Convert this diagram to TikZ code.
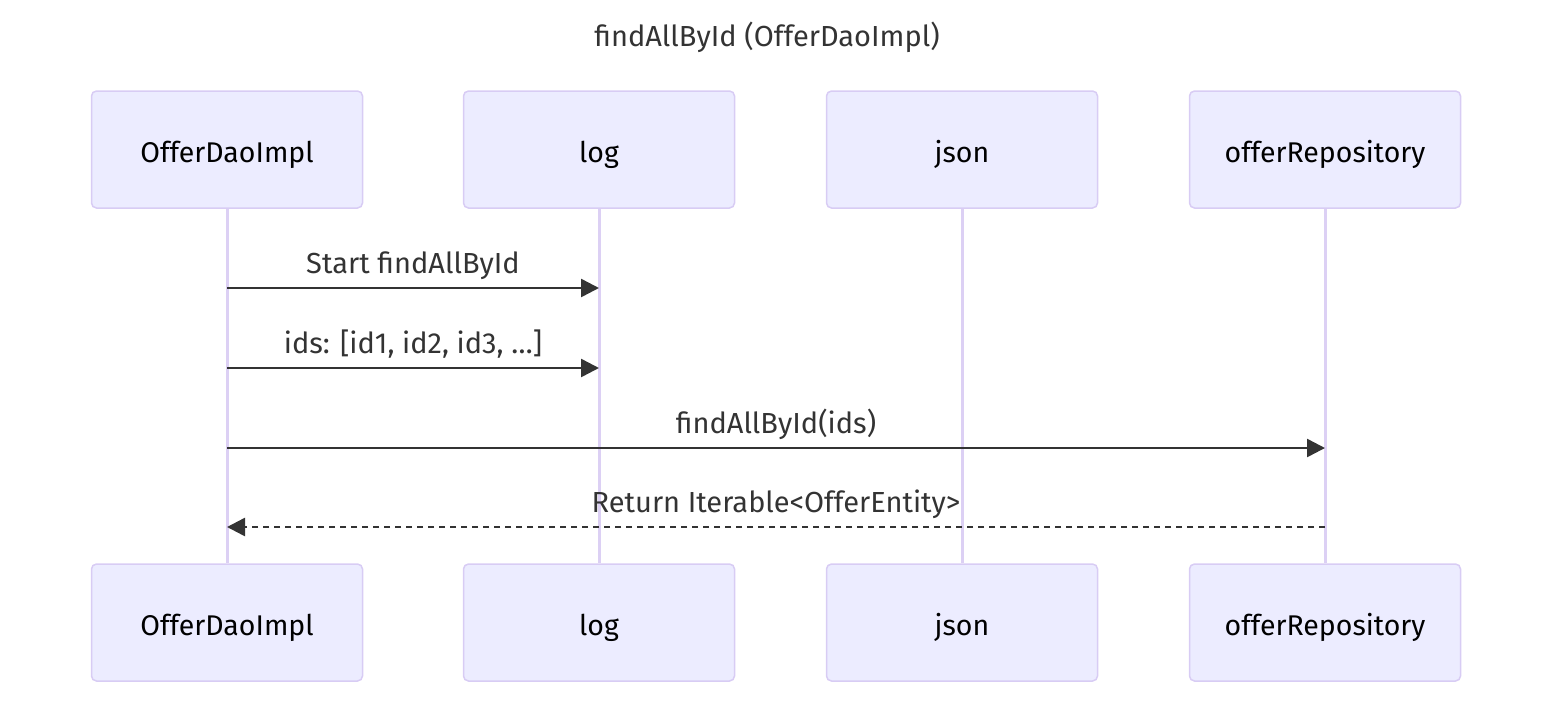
\documentclass[tikz,border=0pt]{standalone}
\usepackage{fontspec}
\setmainfont{Fira Sans}
\usetikzlibrary{arrows.meta}
\definecolor{actfill}{HTML}{ECECFF}
\definecolor{actborder}{HTML}{D8CCF4}
\definecolor{lifeln}{HTML}{DCD0F4}
\definecolor{msg}{HTML}{333333}
\begin{document}
\begin{tikzpicture}[x=1pt,y=-1pt,
  actor/.style={draw=actborder,fill=actfill,line width=1.5pt,rounded corners=5pt,
    minimum width=271pt,minimum height=117pt,inner sep=0pt},
  actlabel/.style={font=\fontsize{28.5}{32}\selectfont,text=black,inner sep=0pt,anchor=base},
  life/.style={draw=lifeln,line width=3pt},
  msgline/.style={draw=msg,line width=2.5pt,-{Triangle[length=18pt,width=18pt]}},
  retline/.style={msgline,dash pattern=on 6pt off 5pt},
  msglabel/.style={font=\fontsize{29}{32}\selectfont,text=msg,inner sep=0pt,anchor=base}]
\useasboundingbox (0,0) rectangle (1568,710);
\node[msglabel] (title) at (767,46) {findAllById (OfferDaoImpl)};
\foreach \n/\x/\t in {a/227/OfferDaoImpl,b/599/log,c/962/json,d/1325/offerRepository}{
  \node[actor] (\n top) at (\x,149.5) {};
  \node[actor] (\n bot) at (\x,622.5) {};
  \node[actlabel] (\n toplabel) at (\x,162) {\t};
  \node[actlabel] (\n botlabel) at (\x,635) {\t};
  \draw[life] (\n top.south) -- (\n bot.north);
  \coordinate (\n1) at (\x,288);
  \coordinate (\n2) at (\x,368);
  \coordinate (\n3) at (\x,448);
  \coordinate (\n4) at (\x,527);
}
\coordinate (m1) at (413,273);
\coordinate (m2) at (413,353);
\coordinate (m3) at (776,433);
\coordinate (m4) at (776,512);
\draw[msgline] (a1) -- (b1);
\node[msglabel] (l1) at (m1) {Start findAllById};
\draw[msgline] (a2) -- (b2);
\node[msglabel] (l2) at (m2) {ids: [id1, id2, id3, …]};
\draw[msgline] (a3) -- (d3);
\node[msglabel] (l3) at (m3) {findAllById(ids)};
\draw[retline] (d4) -- (a4);
\node[msglabel] (l4) at (m4) {Return Iterable<OfferEntity>};
\end{tikzpicture}
\end{document}
